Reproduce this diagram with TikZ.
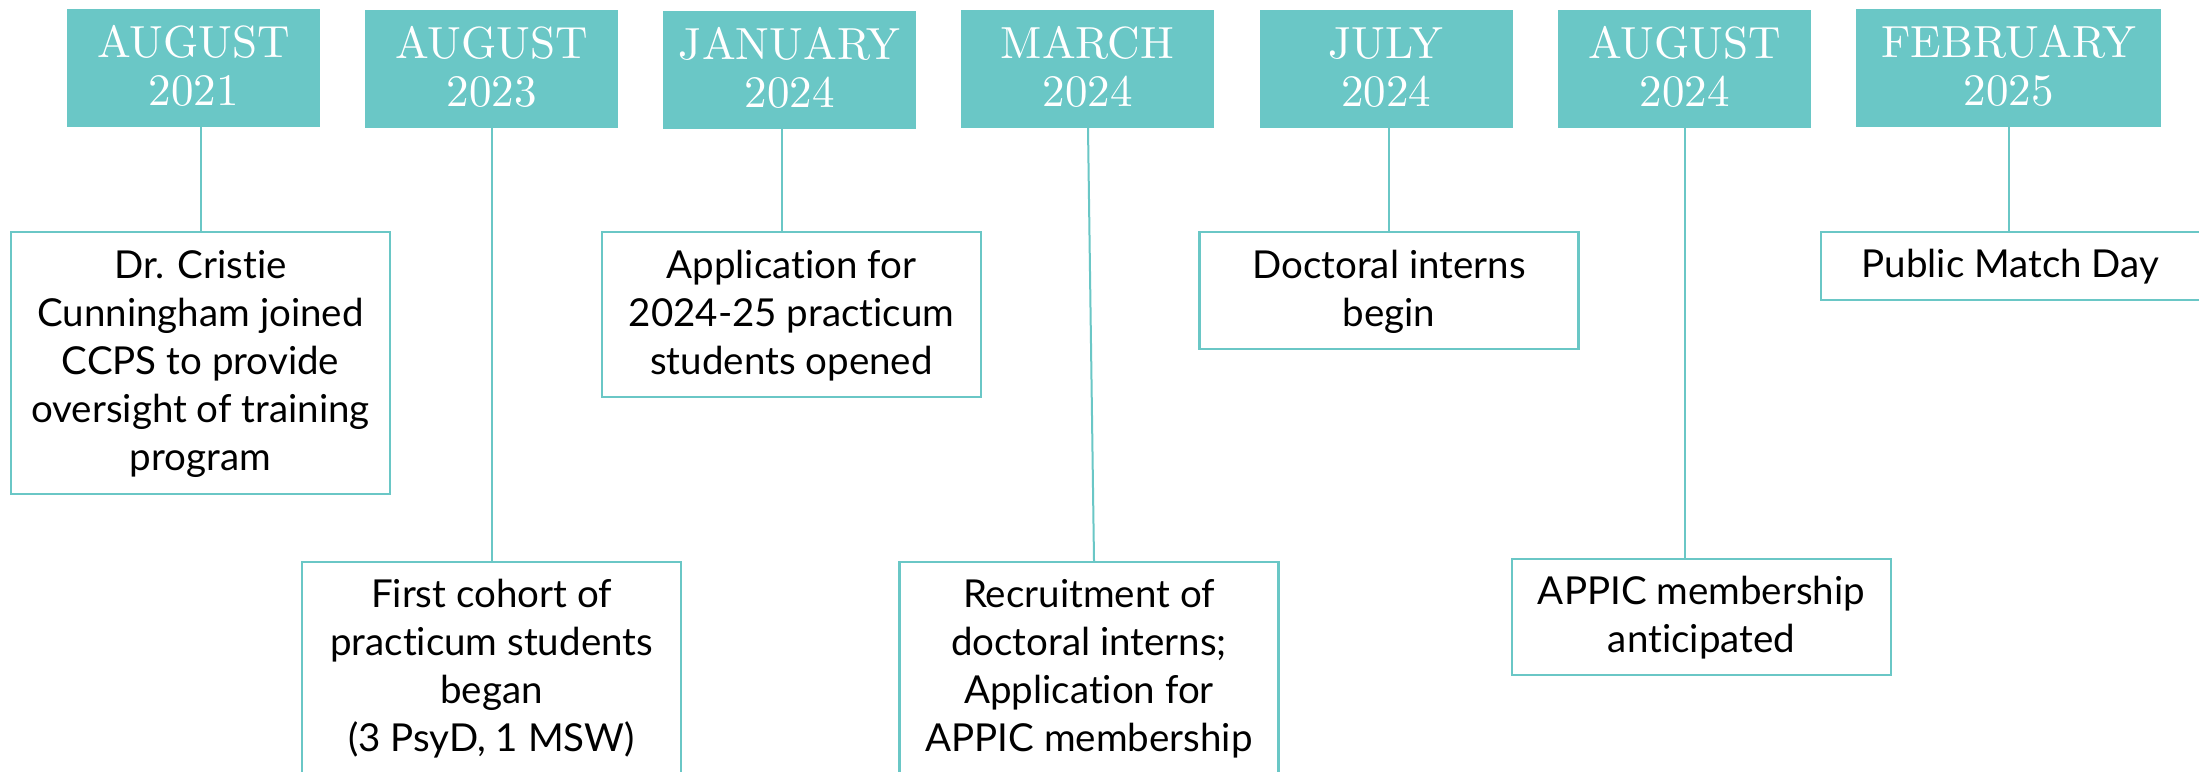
\documentclass[tikz,border=0pt]{standalone}
\usepackage{fontspec}
\setsansfont{Lato}[Ligatures=NoCommon]
\newfontfamily\hdrfont{lmroman10-regular.otf}
\definecolor{tealbox}{RGB}{106,199,198}
\newcommand{\hs}{\rule{0pt}{38pt}}
\newcommand{\hd}{\rule[-12pt]{0pt}{12pt}}
\newcommand{\bs}{\rule{0pt}{35pt}}
\newcommand{\bd}{\rule[-12pt]{0pt}{12pt}}
\tikzset{
  hdr/.style={fill=tealbox, minimum width=253pt, minimum height=118pt, inner sep=0pt,
    align=center, text=white, font=\hdrfont\fontsize{45}{48}\selectfont},
  evbox/.style={draw=tealbox, line width=2.2pt, fill=white, minimum width=379pt,
    inner sep=0pt, align=center, text=black, font=\sffamily\fontsize{38.5}{48}\selectfont},
  conn/.style={draw=tealbox, line width=2pt}
}
\begin{document}
\begin{tikzpicture}[x=1pt,y=1pt]
\useasboundingbox (0,0) rectangle (2199,-771);
\fill[white] (0,0) rectangle (2199,-771);
\clip (0,0) rectangle (2199,-771);
% headers
\node[hdr] (h1) at (193.5,-68) {\hs AUGUST\\2021\hd};
\node[hdr] (h2) at (491.5,-69) {\hs AUGUST\\2023\hd};
\node[hdr] (h3) at (789.5,-70) {\hs JANUARY\\2024\hd};
\node[hdr] (h4) at (1087.5,-69) {\hs MARCH\\2024\hd};
\node[hdr] (h5) at (1386,-69) {\hs JULY\\2024\hd};
\node[hdr] (h6) at (1684.5,-69) {\hs AUGUST\\2024\hd};
\node[hdr, minimum width=305pt] (h7) at (2008.5,-68) {\hs FEBRUARY\\2025\hd};
% event boxes
\node[evbox, minimum height=262pt] (a) at (200.5,-363) {\bs Dr. Cristie\\Cunningham joined\\CCPS to provide\\oversight of training\\program\bd};
\node[evbox, minimum height=212pt] (b) at (491.5,-668) {\bs First cohort of\\practicum students\\began\\(3 PsyD, 1 MSW)\bd};
\node[evbox, minimum height=165pt] (c) at (791.5,-314.5) {\bs Application for\\2024-25 practicum\\students opened\bd};
\node[evbox, minimum height=212pt] (d) at (1089,-668) {\bs Recruitment of\\doctoral interns;\\Application for\\APPIC membership\bd};
\node[evbox, minimum height=117pt] (e) at (1389,-290.5) {\bs Doctoral interns\\begin\bd};
\node[evbox, minimum height=116pt] (f) at (1701.5,-617) {\bs APPIC membership\\anticipated\bd};
\node[evbox, minimum height=68pt] (g) at (2010.5,-266) {\bs Public Match Day\bd};
% connectors
\draw[conn] (a.north |- h1.south) -- (a.north);
\draw[conn] (b.north |- h2.south) -- (b.north);
\draw[conn] ([xshift=-7.5pt]h3.south) -- ([xshift=-9.5pt]c.north);
\draw[conn] ([xshift=0.5pt]h4.south) -- ([xshift=5pt]d.north);
\draw[conn] (e.north |- h5.south) -- (e.north);
\draw[conn] (h6.south) -- (h6.south |- f.north);
\draw[conn] (h7.south) -- (h7.south |- g.north);
\end{tikzpicture}
\end{document}
